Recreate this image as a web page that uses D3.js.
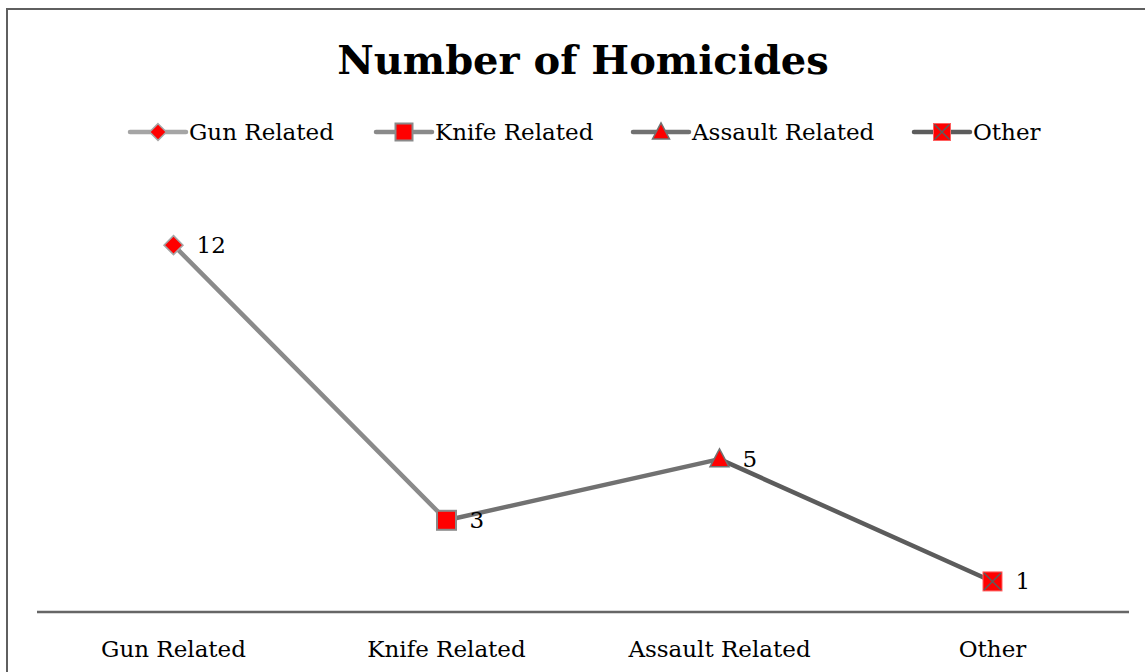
<!DOCTYPE html>
<html>
<head>
<meta charset="utf-8">
<script src="https://cdn.jsdelivr.net/npm/d3@7"></script>
<style>
  body { margin: 0; background: #fff; }
  svg text { font-family: "Palatino Linotype", "Book Antiqua", Palatino, "DejaVu Serif", serif; fill: #000; }
</style>
</head>
<body>
<svg id="chart" width="1145" height="672"></svg>
<script>
// chart data
var categories = ["Gun Related", "Knife Related", "Assault Related", "Other"];
var values = [12, 3, 5, 1];
var seriesColors = ["#a5a5a5", "#8a8a8a", "#717171", "#5c5c5c"];
var markerTypes = ["diamond", "square", "triangle", "xsquare"];

var width = 1145, height = 672;
var svg = d3.select("#chart");

// outer frame (runs off the right and bottom edge)
svg.append("rect")
  .attr("x", 7).attr("y", 9)
  .attr("width", 1160).attr("height", 700)
  .attr("fill", "none")
  .attr("stroke", "#5f5f5f")
  .attr("stroke-width", 2);

var x = d3.scaleBand()
  .domain(categories)
  .range([37, 1129]);

var y = d3.scaleLinear()
  .domain([0, 14])
  .range([612, 184]);

function cx(d) { return x(d) + x.bandwidth() / 2; }

// title
svg.append("text")
  .attr("x", 583).attr("y", 74)
  .attr("text-anchor", "middle")
  .attr("font-size", 40)
  .attr("font-weight", "bold")
  .text("Number of Homicides");

// marker drawing
function drawMarker(g, type, size) {
  if (type === "diamond") {
    g.append("path")
      .attr("d", d3.symbol(d3.symbolDiamond2, size * size * 0.9)())
      .attr("fill", "#ff0000").attr("stroke", "#a5a5a5").attr("stroke-width", 1.5);
  } else if (type === "square") {
    g.append("rect")
      .attr("x", -size / 2).attr("y", -size / 2)
      .attr("width", size).attr("height", size)
      .attr("fill", "#ff0000").attr("stroke", "#8a8a8a").attr("stroke-width", 2);
  } else if (type === "triangle") {
    var h = size * 0.9;
    g.append("path")
      .attr("d", "M0," + (-h * 0.6) + "L" + (size / 2) + "," + (h * 0.45) + "L" + (-size / 2) + "," + (h * 0.45) + "Z")
      .attr("fill", "#ff0000").attr("stroke", "#717171").attr("stroke-width", 1.5);
  } else {
    g.append("rect")
      .attr("x", -size / 2).attr("y", -size / 2)
      .attr("width", size).attr("height", size)
      .attr("fill", "#ff0000").attr("stroke", "#ff6060").attr("stroke-width", 1);
    var s = size / 2 - 1;
    g.append("path")
      .attr("d", "M" + (-s) + "," + (-s) + "L" + s + "," + s + "M" + s + "," + (-s) + "L" + (-s) + "," + s)
      .attr("stroke", "#5c5c5c").attr("stroke-width", 1.5);
  }
}

// legend
var legendX = [130, 376, 633, 914];
var legend = svg.append("g").attr("class", "legend");
categories.forEach(function (c, i) {
  var g = legend.append("g").attr("transform", "translate(" + legendX[i] + ",132)");
  g.append("line")
    .attr("x1", 0).attr("x2", 56)
    .attr("stroke", seriesColors[i])
    .attr("stroke-width", 4.5)
    .attr("stroke-linecap", "round");
  drawMarker(g.append("g").attr("transform", "translate(28,0)"), markerTypes[i], i === 0 ? 14 : 17);
  g.append("text")
    .attr("x", 59).attr("y", 0)
    .attr("dy", "0.35em")
    .attr("font-size", 23)
    .text(c);
});

// line segments, each segment coloured by the series it ends on
var plot = svg.append("g").attr("class", "plot");
for (var i = 1; i < categories.length; i++) {
  plot.append("line")
    .attr("x1", cx(categories[i - 1])).attr("y1", y(values[i - 1]))
    .attr("x2", cx(categories[i])).attr("y2", y(values[i]))
    .attr("stroke", seriesColors[i])
    .attr("stroke-width", 4.5)
    .attr("stroke-linecap", "round");
}

// axis line
svg.append("line")
  .attr("x1", 37).attr("x2", 1129)
  .attr("y1", y(0)).attr("y2", y(0))
  .attr("stroke", "#666")
  .attr("stroke-width", 2.5);

// markers and data labels
categories.forEach(function (c, i) {
  var g = plot.append("g").attr("transform", "translate(" + cx(c) + "," + y(values[i]) + ")");
  drawMarker(g, markerTypes[i], i === 0 ? 16 : 19);
  plot.append("text")
    .attr("x", cx(c) + 23)
    .attr("y", y(values[i]))
    .attr("dy", "0.35em")
    .attr("font-size", 23)
    .text(values[i]);
});

// category labels
svg.selectAll(".cat")
  .data(categories)
  .enter().append("text")
  .attr("class", "cat")
  .attr("x", function (d) { return cx(d); })
  .attr("y", 657)
  .attr("text-anchor", "middle")
  .attr("font-size", 23)
  .text(function (d) { return d; });
</script>
</body>
</html>
